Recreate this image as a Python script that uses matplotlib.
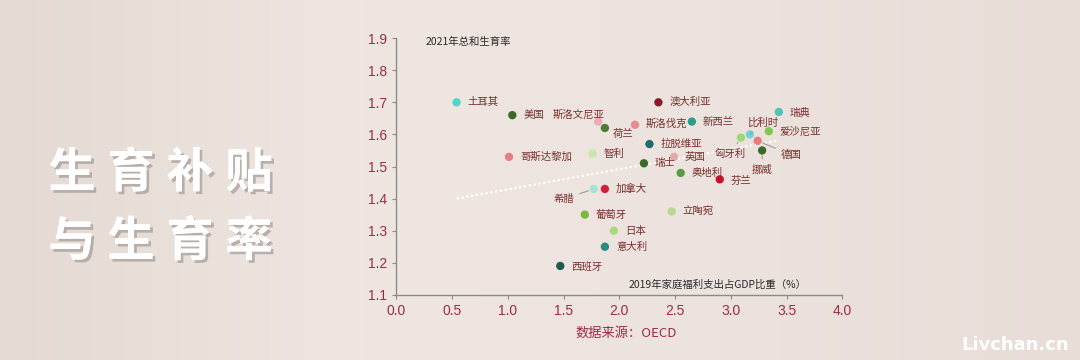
"""Family benefit spending vs fertility rate, OECD countries."""

import numpy as np
import matplotlib
matplotlib.use('Agg')
import matplotlib.pyplot as plt
import matplotlib.patheffects as pe

plt.rcParams['font.family'] = ['Noto Sans CJK SC', 'DejaVu Sans']

COUNTRIES = [
    '土耳其', '美国', '斯洛文尼亚', '荷兰', '哥斯达黎加', '智利', '澳大利亚',
    '斯洛伐克', '新西兰', '拉脱维亚', '瑞士', '英国', '奥地利', '芬兰',
    '匈牙利', '比利时', '瑞典', '爱沙尼亚', '德国', '挪威', '加拿大',
    '希腊', '葡萄牙', '日本', '意大利', '西班牙', '立陶宛',
]
SPENDING = [
    0.54, 1.04, 1.81, 1.87, 1.01, 1.76, 2.35,
    2.14, 2.65, 2.27, 2.22, 2.49, 2.55, 2.90,
    3.09, 3.17, 3.43, 3.34, 3.24, 3.28, 1.87,
    1.77, 1.69, 1.95, 1.87, 1.47, 2.47,
]
FERTILITY = [
    1.70, 1.66, 1.64, 1.62, 1.53, 1.54, 1.70,
    1.63, 1.64, 1.57, 1.51, 1.53, 1.48, 1.46,
    1.59, 1.60, 1.67, 1.61, 1.58, 1.55, 1.43,
    1.43, 1.35, 1.30, 1.25, 1.19, 1.36,
]
TREND_X = [0.54, 3.41]
TREND_Y = [1.40, 1.58]

TITLE_LINES = ['生育补贴', '与生育率']

COLORS = [
    '#4fd6c8', '#3b6a28', '#eeaab2', '#4d7d32', '#e47d8c', '#cbe4a8', '#8b1a2e',
    '#ea8a92', '#2a9d8f', '#1f6b70', '#3b6a28', '#e4aaaa', '#5a9a40', '#c8102e',
    '#9ed870', '#6fd4d4', '#4fc3b8', '#7fc850', '#e87a80', '#3b6a28', '#d0203a',
    '#a8e0d8', '#7ab840', '#a8d880', '#2a8a80', '#1f5a50', '#b8d890',
]

# label offsets in pixels (dx, dy up); leader line flag
OFFSETS = {
    '斯洛文尼亚': (-46, 7, False), '荷兰': (8, -6, False),
    '匈牙利': (-26, -16, True), '比利时': (-3, 12, True),
    '德国': (23, -14, True), '挪威': (-10, -19, True),
    '希腊': (-40, -10, True), '瑞典': (11, -1, False),
    '芬兰': (11, -1, False), '斯洛伐克': (11, 1, False),
    '西班牙': (11, -1, False),
}

BG = '#ece3dd'
RED = '#9e2b45'
LABEL = '#7a2e2e'


def main():
    fig = plt.figure(figsize=(10.8, 3.6), dpi=100, facecolor=BG)

    # soft horizontal gradient background
    bg = fig.add_axes([0, 0, 1, 1], zorder=-10)
    grad = np.linspace(0, 1, 256).reshape(1, -1)
    cmap = matplotlib.colors.LinearSegmentedColormap.from_list(
        'bg', ['#e4dad3', '#efe6e1', '#ece3de', '#e8ddd7'])
    bg.imshow(grad, aspect='auto', cmap=cmap, extent=[0, 1, 0, 1])
    bg.axis('off')

    ax = fig.add_axes([0.367, 0.181, 0.413, 0.713])
    ax.set_facecolor('none')
    ax.set_xlim(0, 4)
    ax.set_ylim(1.1, 1.9)
    ax.set_xticks(np.arange(0, 4.01, 0.5))
    ax.set_yticks(np.arange(1.1, 1.91, 0.1))
    ax.xaxis.set_major_formatter(matplotlib.ticker.FormatStrFormatter('%.1f'))
    ax.yaxis.set_major_formatter(matplotlib.ticker.FormatStrFormatter('%.1f'))
    for side in ('top', 'right'):
        ax.spines[side].set_visible(False)
    for side in ('left', 'bottom'):
        ax.spines[side].set_color('#8a8a8a')
        ax.spines[side].set_linewidth(1.0)
    ax.tick_params(colors='#8a8a8a', labelcolor=RED, labelsize=10,
                   length=3, width=0.8)
    for lab in ax.get_xticklabels() + ax.get_yticklabels():
        lab.set_family('Liberation Sans')

    ax.plot(TREND_X, TREND_Y, color='white', linestyle=(0, (1, 1.2)),
            linewidth=1.6, zorder=1)

    ax.scatter(SPENDING, FERTILITY, s=36, c=COLORS, zorder=3, linewidths=0)

    for name, x, y in zip(COUNTRIES, SPENDING, FERTILITY):
        dx, dy, leader = OFFSETS.get(name, (11, 0, False))
        kw = {}
        if leader:
            kw['arrowprops'] = dict(arrowstyle='-', color='#9a9a9a', lw=0.8,
                                    shrinkA=2, shrinkB=4)
        ax.annotate(name, (x, y), xytext=(dx * 0.72, dy * 0.72),
                    textcoords='offset points', ha='left', va='center',
                    fontsize=7.5, color=LABEL, zorder=4, **kw)

    ax.text(0.065, 0.985, '2021年总和生育率', transform=ax.transAxes,
            fontsize=7.5, color='#2a2a2a', va='center', ha='left')
    ax.text(0.72, 0.04, '2019年家庭福利支出占GDP比重（%）', transform=ax.transAxes,
            fontsize=7.5, color='#2a2a2a', va='center', ha='center')

    fig.text(0.580, 0.075, '数据来源：OECD', fontsize=9.5, color=RED,
             ha='center', va='center')

    # big title, one character at a time for the wide spacing
    shadow = [pe.withSimplePatchShadow(offset=(2, -2), shadow_rgbFace='#8a7f7a',
                                       alpha=0.5), pe.Normal()]
    for line, ypos in zip(TITLE_LINES, (0.519, 0.328)):
        for i, ch in enumerate(line):
            fig.text((72 + 59 * i) / 1080, ypos, ch, fontsize=34,
                     color='white', ha='center', va='center',
                     fontweight='bold', path_effects=shadow)

    fig.text(0.940, 0.042, 'Livchan.cn', fontsize=13, color='white',
             ha='center', va='center', fontweight='bold', family='DejaVu Sans')

    fig.savefig('out.png', dpi=100, facecolor=BG)


if __name__ == '__main__':
    main()
